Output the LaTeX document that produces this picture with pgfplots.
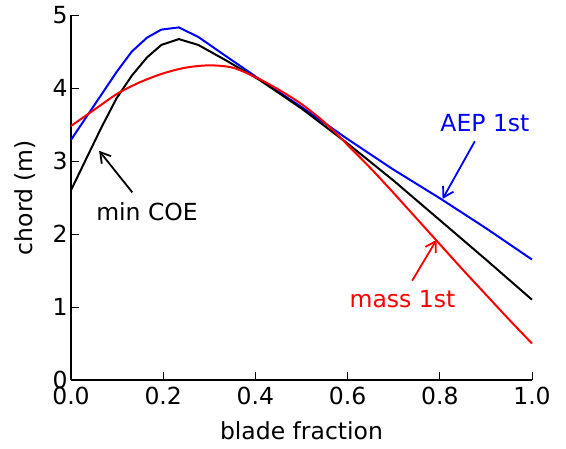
\documentclass[border=0pt]{standalone}
\usepackage{pgfplots}
\pgfplotsset{compat=1.18}
\usepackage{fontspec}
\setmainfont{DejaVu Sans}
\usetikzlibrary{arrows.meta}

\newcommand{\lbl}{\fontsize{23.5bp}{28bp}\selectfont}

% chord distributions along the blade
\pgfplotstableread{
x      c
0.000  3.29
0.033  3.60
0.066  3.91
0.099  4.22
0.132  4.50
0.165  4.69
0.196  4.80
0.234  4.83
0.276  4.70
0.333  4.45
0.409  4.12
0.500  3.74
0.600  3.30
0.700  2.88
0.800  2.49
0.900  2.08
1.000  1.65
}\aepfirst

\pgfplotstableread{
x      c
0.000  2.60
0.033  3.03
0.066  3.46
0.099  3.86
0.132  4.17
0.165  4.42
0.196  4.59
0.234  4.67
0.276  4.59
0.333  4.39
0.409  4.11
0.500  3.72
0.600  3.24
0.700  2.73
0.800  2.19
0.900  1.65
1.000  1.10
}\mincoe

\pgfplotstableread{
x     c
0.00  3.48
0.05  3.70
0.10  3.92
0.15  4.08
0.20  4.20
0.25  4.28
0.30  4.31
0.35  4.28
0.40  4.15
0.45  3.98
0.50  3.78
0.55  3.53
0.60  3.22
0.65  2.90
0.70  2.56
0.75  2.21
0.80  1.86
0.85  1.51
0.90  1.17
0.95  0.83
1.00  0.50
}\massfirst

\begin{document}
\begin{tikzpicture}[
  note arrow/.style={line width=1.8bp, -{Straight Barb[length=10bp, width=12bp]}}]
\begin{axis}[
  at={(0,0)}, anchor=south west,
  scale only axis, width=461bp, height=365bp,
  xmin=0, xmax=1, ymin=0, ymax=5,
  axis x line=bottom, axis y line=left,
  axis line style={-, line width=1.6bp},
  tick align=inside, major tick length=8bp,
  tick style={line width=1bp, black},
  xtick={0,0.2,0.4,0.6,0.8,1.0},
  xticklabels={0.0,0.2,0.4,0.6,0.8,1.0},
  ytick={0,1,2,3,4,5},
  /pgf/number format/assume math mode=true,
  tick label style={font=\lbl},
  x tick label style={yshift=-4bp},
  xlabel={blade fraction}, ylabel={chord (m)},
  label style={font=\lbl},
  xlabel style={at={([yshift=-51bp]axis description cs:0.5,0)}, anchor=center},
  ylabel style={at={([xshift=-46bp]axis description cs:0,0.5)}, anchor=center},
  clip=false,
]
\addplot[blue, line width=2bp] table[x=x, y=c] {\aepfirst};
\addplot[black, line width=2bp] table[x=x, y=c] {\mincoe};
\addplot[red, line width=2bp, smooth] table[x=x, y=c] {\massfirst};

\node[blue, font=\lbl, inner sep=0] at (axis cs:0.898,3.52) {AEP 1st};
\draw[blue, note arrow] (axis cs:0.876,3.27) -- (axis cs:0.806,2.48);

\node[red, font=\lbl, inner sep=0] at (axis cs:0.719,1.11) {mass 1st};
\draw[red, note arrow] (axis cs:0.740,1.36) -- (axis cs:0.793,1.92);

\node[black, font=\lbl, inner sep=0] at (axis cs:0.165,2.31) {min COE};
\draw[black, note arrow] (axis cs:0.133,2.57) -- (axis cs:0.061,3.14);
\end{axis}
\pgfresetboundingbox
\path (-71bp,-69bp) rectangle (495bp,380bp);
\end{tikzpicture}
\end{document}
